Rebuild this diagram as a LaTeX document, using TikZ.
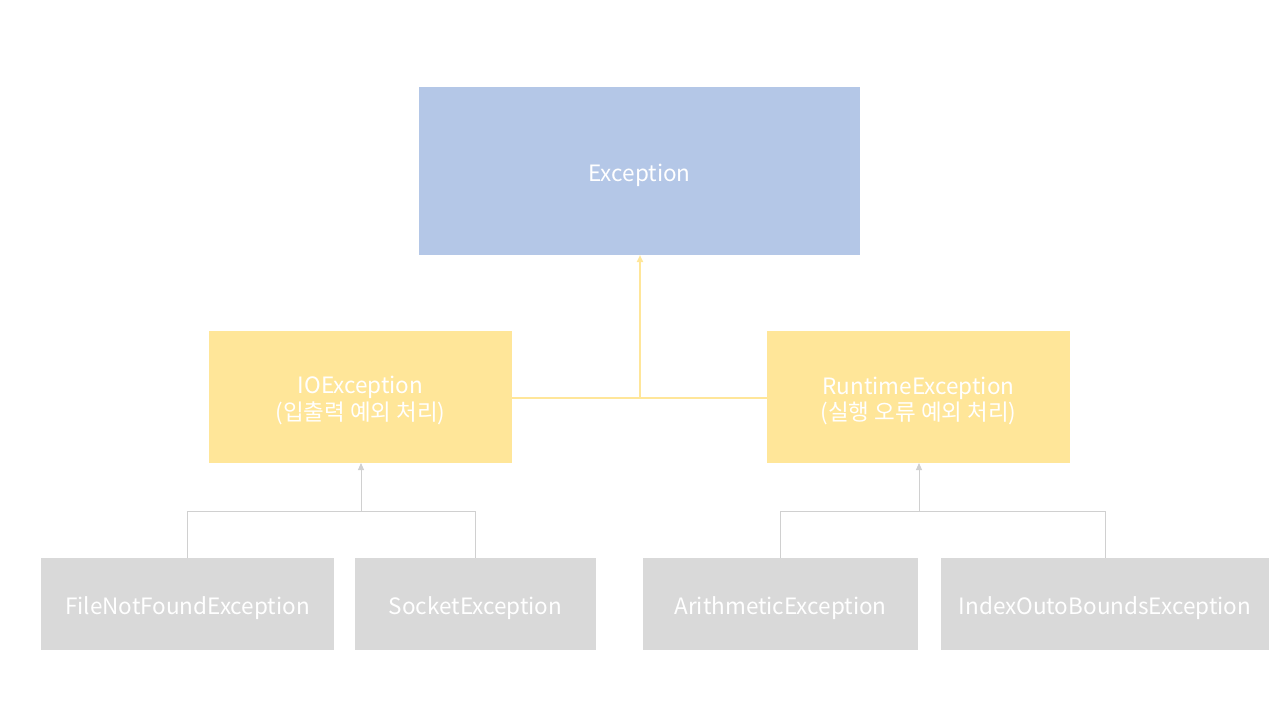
\documentclass[tikz,border=0pt]{standalone}
\usepackage{fontspec}
\setmainfont{Noto Sans CJK KR}
\usetikzlibrary{arrows.meta}
\definecolor{cblue}{HTML}{B4C7E7}
\definecolor{cyel}{HTML}{FFE699}
\definecolor{cgray}{HTML}{D9D9D9}
\definecolor{lgray}{HTML}{D0D0D0}
\newcommand{\dnlbl}[1]{\raisebox{-5pt}[0pt][0pt]{\begin{tabular}{@{}c@{}}#1\end{tabular}}\vphantom{\begin{tabular}{@{}c@{}}#1\end{tabular}}}
\tikzset{
  box/.style={draw=none, inner sep=0pt, outer sep=0pt, text=white, align=center, font=\fontsize{22.5}{26}\selectfont},
  topbox/.style={box, fill=cblue, minimum width=441pt, minimum height=168pt},
  midbox/.style={box, fill=cyel, minimum width=303pt, minimum height=132pt},
  leafbox/.style={box, fill=cgray, minimum height=92pt},
  yline/.style={draw=cyel, line width=2pt},
  gline/.style={draw=lgray, line width=0.9pt},
  tip/.style={-{Triangle[width=6pt,length=7pt]}}
}
\begin{document}
\begin{tikzpicture}[x=1pt,y=-1pt]
\useasboundingbox (0,0) rectangle (1280,720);
\node[topbox] (exc) at (639.5,171) {\dnlbl{Exception}};
\node[midbox] (io) at (360.5,397) {\dnlbl{IOException\\(입출력 예외 처리)}};
\node[midbox] (rt) at (918.5,397) {\dnlbl{RuntimeException\\(실행 오류 예외 처리)}};
\node[leafbox, minimum width=293pt] (fnf) at (187.5,604) {\dnlbl{FileNotFoundException}};
\node[leafbox, minimum width=241pt] (sock) at (475.5,604) {\dnlbl{SocketException}};
\node[leafbox, minimum width=275pt] (ari) at (780.5,604) {\dnlbl{ArithmeticException}};
\node[leafbox, minimum width=328pt] (idx) at (1105,604) {\dnlbl{IndexOutoBoundsException}};
% yellow connectors
\coordinate (ym) at (640,398);
\draw[yline] (io.east |- ym) -- (rt.west |- ym);
\draw[yline, tip] (ym) -- (ym |- exc.south);
% left gray connectors
\coordinate (lj) at (361,511.5);
\draw[gline] (fnf.north) -- (fnf.north |- lj) -- (sock.north |- lj) -- (sock.north);
\draw[gline, tip] (lj) -- (lj |- io.south);
% right gray connectors
\coordinate (rj) at (919,511.5);
\draw[gline] (ari.north) -- (ari.north |- rj) -- (idx.north |- rj) -- (idx.north);
\draw[gline, tip] (rj) -- (rj |- rt.south);
\end{tikzpicture}
\end{document}
